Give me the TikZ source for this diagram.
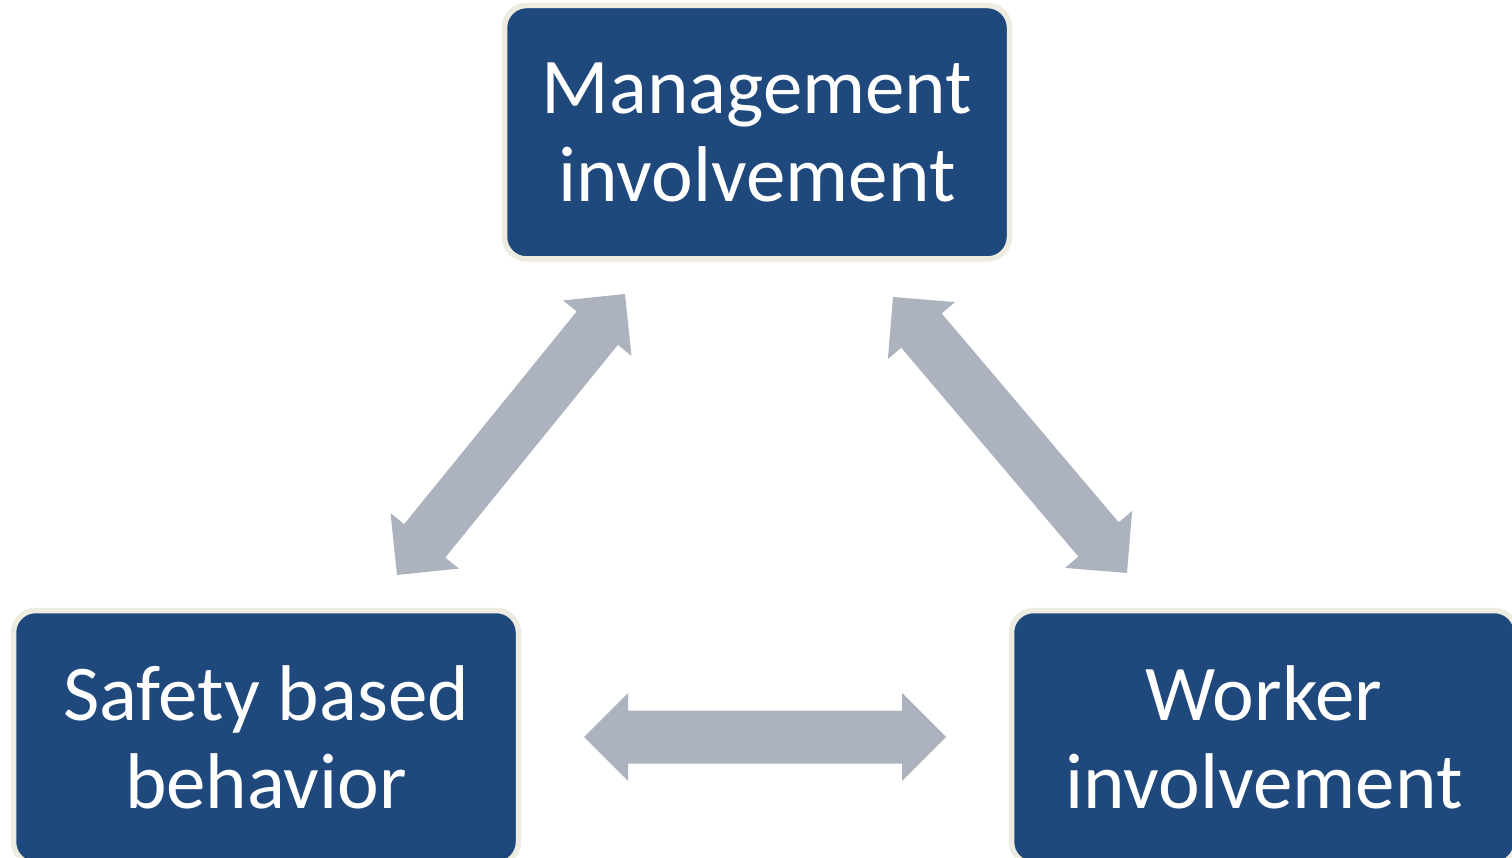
\documentclass[tikz,border=0pt]{standalone}
\usepackage{fontspec}
\setmainfont{Carlito}
\usetikzlibrary{calc}
\definecolor{boxblue}{HTML}{1F497D}
\definecolor{boxedge}{HTML}{EEECE1}
\definecolor{arrgray}{HTML}{ADB2BF}
\newcommand\dblarrow[2]{%
  \fill[arrgray] (#1)
    -- ($(#1)!44pt!(#2)!44pt!90:(#2)$)
    -- ($(#1)!44pt!(#2)!26.5pt!90:(#2)$)
    -- ($(#2)!44pt!(#1)!26.5pt!-90:(#1)$)
    -- ($(#2)!44pt!(#1)!44pt!-90:(#1)$)
    -- (#2)
    -- ($(#2)!44pt!(#1)!44pt!90:(#1)$)
    -- ($(#2)!44pt!(#1)!26.5pt!90:(#1)$)
    -- ($(#1)!44pt!(#2)!26.5pt!-90:(#2)$)
    -- ($(#1)!44pt!(#2)!44pt!-90:(#2)$)
    -- cycle;}
\tikzset{
  box/.style={draw=boxedge, line width=5.5pt, fill=boxblue, rounded corners=22pt,
    minimum width=505pt, minimum height=253.5pt, inner sep=0pt,
    text=white, align=center, font=\fontsize{79}{88}\selectfont}
}
\begin{document}
\begin{tikzpicture}[x=1pt,y=-1pt]
  \useasboundingbox (0,0) rectangle (1512,858);
  \clip (0,0) rectangle (1512,858);
  \node[box] (mgmt) at (757,132.25) {Management\\involvement};
  \node[box] (safety) at (266,737.25) {Safety based\\behavior};
  \node[box] (worker) at (1264,737.25) {Worker\\involvement};
  \coordinate (la) at (397,575);
  \coordinate (lb) at (625,294);
  \coordinate (ra) at (1127,573);
  \coordinate (rb) at (893,297);
  \coordinate (ha) at (584,737);
  \coordinate (hb) at (946,737);
  \dblarrow{la}{lb}
  \dblarrow{ra}{rb}
  \dblarrow{ha}{hb}
\end{tikzpicture}
\end{document}
